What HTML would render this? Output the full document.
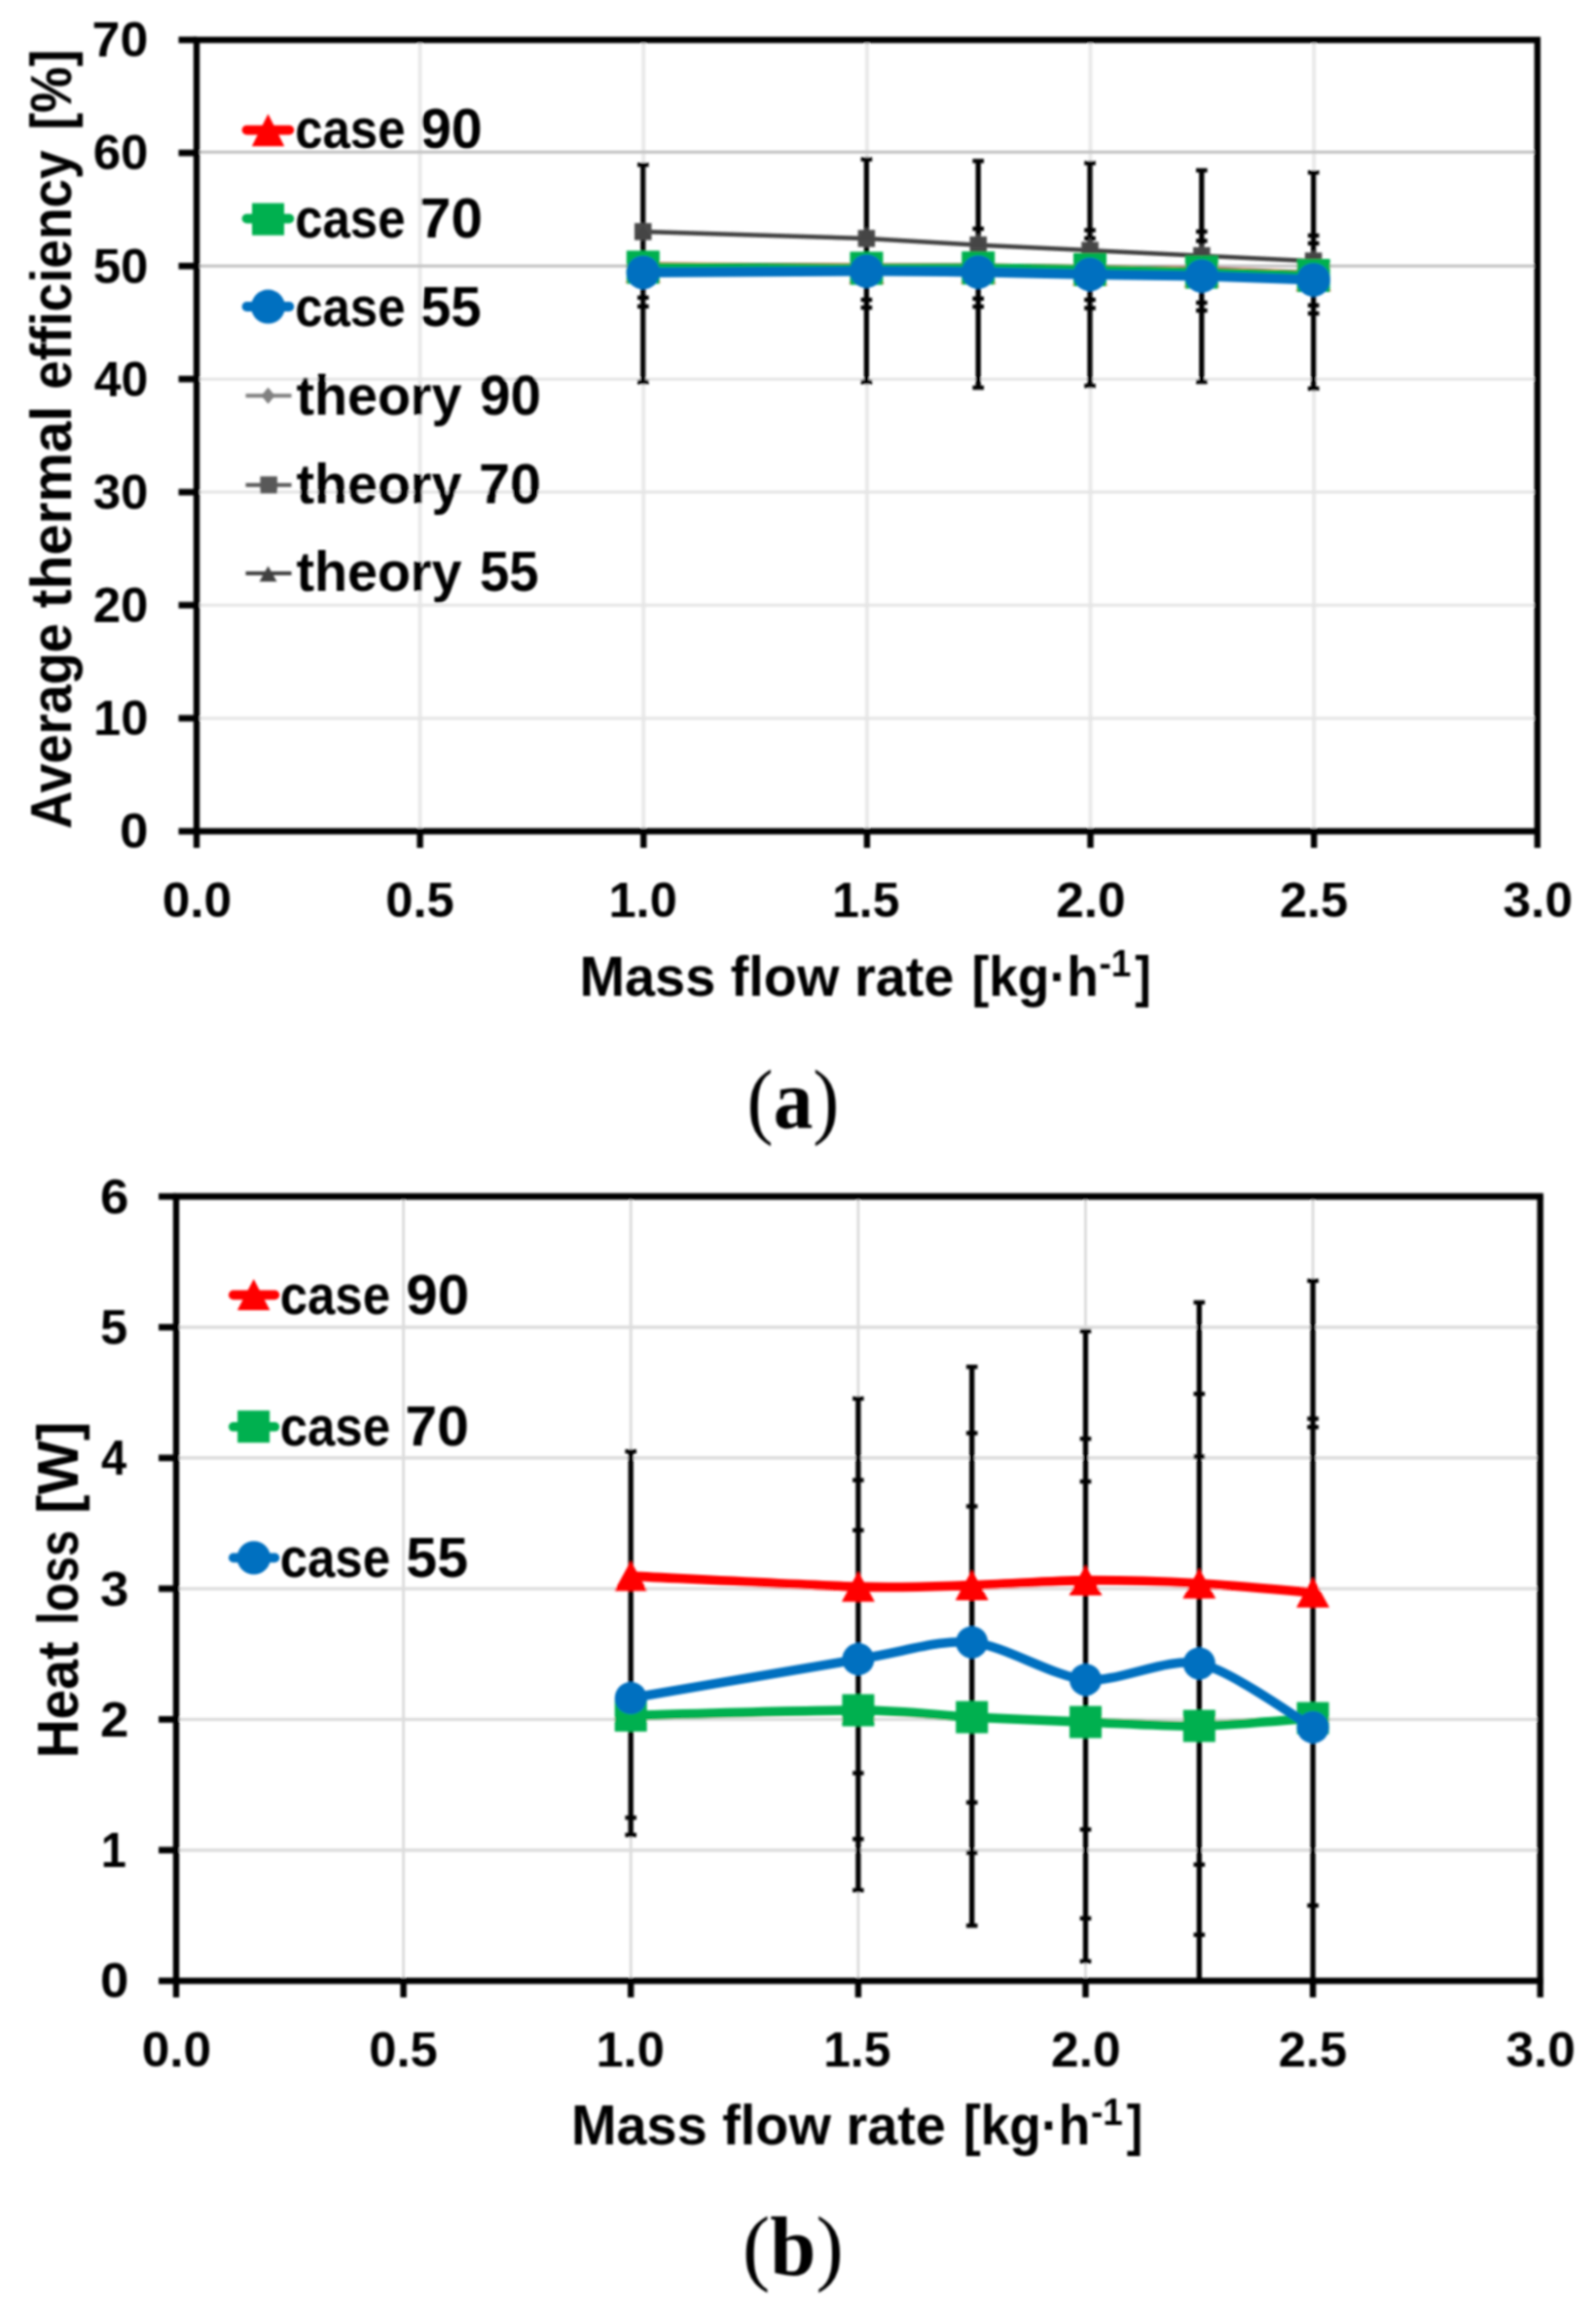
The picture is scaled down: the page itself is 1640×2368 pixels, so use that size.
<!DOCTYPE html>
<html lang="en"><head><meta charset="utf-8"><title>Charts</title>
<style>html,body{margin:0;padding:0;background:#fff}svg{display:block}text{font-family:"Liberation Sans",sans-serif;font-weight:bold;fill:#000}.cap{font-family:"Liberation Serif",serif;font-weight:normal}.cap tspan{font-weight:bold}</style></head><body>
<svg width="1640" height="2368" viewBox="0 0 1640 2368" role="img" aria-label="Charts (a) and (b)">
<defs><filter id="soft" x="0" y="0" width="1640" height="2368" filterUnits="userSpaceOnUse"><feGaussianBlur stdDeviation="0.8"/></filter></defs>
<rect width="1640" height="2368" fill="#fff"/>
<g filter="url(#soft)">
<g id="chart-a">
<line x1="431.6" y1="41.0" x2="431.6" y2="854.0" stroke="#e9e9e9" stroke-width="4"/>
<line x1="661.3" y1="41.0" x2="661.3" y2="854.0" stroke="#e9e9e9" stroke-width="4"/>
<line x1="890.9" y1="41.0" x2="890.9" y2="854.0" stroke="#e9e9e9" stroke-width="4"/>
<line x1="1120.5" y1="41.0" x2="1120.5" y2="854.0" stroke="#e9e9e9" stroke-width="4"/>
<line x1="1350.2" y1="41.0" x2="1350.2" y2="854.0" stroke="#e9e9e9" stroke-width="4"/>
<line x1="202.0" y1="737.9" x2="1579.8" y2="737.9" stroke="#e4e4e4" stroke-width="3"/>
<line x1="202.0" y1="621.7" x2="1579.8" y2="621.7" stroke="#e4e4e4" stroke-width="3"/>
<line x1="202.0" y1="505.6" x2="1579.8" y2="505.6" stroke="#e4e4e4" stroke-width="3"/>
<line x1="202.0" y1="389.4" x2="1579.8" y2="389.4" stroke="#e4e4e4" stroke-width="3"/>
<line x1="202.0" y1="273.3" x2="1579.8" y2="273.3" stroke="#c0c0c0" stroke-width="3"/>
<line x1="202.0" y1="156.3" x2="1579.8" y2="156.3" stroke="#c0c0c0" stroke-width="3"/>
<line x1="253.5" y1="133.6" x2="297.3" y2="133.6" stroke="#ff0000" stroke-width="9.8" stroke-linecap="round"/>
<line x1="253.5" y1="224.6" x2="297.3" y2="224.6" stroke="#00b050" stroke-width="9.8" stroke-linecap="round"/>
<line x1="253.5" y1="315.0" x2="297.3" y2="315.0" stroke="#0070c0" stroke-width="9.8" stroke-linecap="round"/>
<polygon points="275.5,117.0 292.2,150.2 258.8,150.2" fill="#ff0000"/>
<rect x="259.0" y="208.7" width="33" height="33" fill="#00b050"/>
<circle cx="275.5" cy="315.1" r="17.5" fill="#0070c0"/>
<line x1="252.5" y1="406.4" x2="299.5" y2="406.4" stroke="#808080" stroke-width="4.0"/>
<polygon points="275.5,397.9 282.5,406.4 275.5,414.9 268.5,406.4" fill="#808080"/>
<line x1="252.5" y1="498.2" x2="299.5" y2="498.2" stroke="#595959" stroke-width="4.0"/>
<rect x="267.4" y="489.4" width="17.5" height="17.5" fill="#595959"/>
<line x1="252.5" y1="589.1" x2="299.5" y2="589.1" stroke="#404040" stroke-width="4.0"/>
<polygon points="275.5,581.6 284.5,597.6 266.5,597.6" fill="#404040"/>
<text x="303.2" y="152.2" font-size="57" textLength="113.3" lengthAdjust="spacingAndGlyphs">case</text>
<text x="432.0" y="152.2" font-size="57" textLength="63.7" lengthAdjust="spacingAndGlyphs">90</text>
<text x="303.2" y="243.5" font-size="57" textLength="113.3" lengthAdjust="spacingAndGlyphs">case</text>
<text x="431.0" y="243.5" font-size="57" textLength="64.8" lengthAdjust="spacingAndGlyphs">70</text>
<text x="303.2" y="334.9" font-size="57" textLength="113.3" lengthAdjust="spacingAndGlyphs">case</text>
<text x="432.0" y="334.9" font-size="57" textLength="62.7" lengthAdjust="spacingAndGlyphs">55</text>
<text x="304.4" y="425.6" font-size="57" textLength="170.1" lengthAdjust="spacingAndGlyphs">theory</text>
<text x="492.9" y="425.6" font-size="57" textLength="63.0" lengthAdjust="spacingAndGlyphs">90</text>
<text x="304.4" y="517.0" font-size="57" textLength="170.1" lengthAdjust="spacingAndGlyphs">theory</text>
<text x="491.9" y="517.0" font-size="57" textLength="64.0" lengthAdjust="spacingAndGlyphs">70</text>
<text x="304.4" y="607.4" font-size="57" textLength="170.1" lengthAdjust="spacingAndGlyphs">theory</text>
<text x="492.9" y="607.4" font-size="57" textLength="60.7" lengthAdjust="spacingAndGlyphs">55</text>
<line x1="660.8" y1="169.3" x2="660.8" y2="392.6" stroke="#000" stroke-width="5.3"/><line x1="655.0" y1="169.3" x2="666.6" y2="169.3" stroke="#000" stroke-width="4.4"/><line x1="655.0" y1="392.6" x2="666.6" y2="392.6" stroke="#000" stroke-width="4.4"/><line x1="655.0" y1="305.8" x2="666.6" y2="305.8" stroke="#000" stroke-width="4.4"/><line x1="655.0" y1="314.8" x2="666.6" y2="314.8" stroke="#000" stroke-width="4.4"/>
<line x1="890.4" y1="163.7" x2="890.4" y2="392.6" stroke="#000" stroke-width="5.3"/><line x1="884.6" y1="163.7" x2="896.2" y2="163.7" stroke="#000" stroke-width="4.4"/><line x1="884.6" y1="392.6" x2="896.2" y2="392.6" stroke="#000" stroke-width="4.4"/><line x1="884.6" y1="308.0" x2="896.2" y2="308.0" stroke="#000" stroke-width="4.4"/><line x1="884.6" y1="316.0" x2="896.2" y2="316.0" stroke="#000" stroke-width="4.4"/>
<line x1="1005.2" y1="165.4" x2="1005.2" y2="398.3" stroke="#000" stroke-width="5.3"/><line x1="999.4" y1="165.4" x2="1011.0" y2="165.4" stroke="#000" stroke-width="4.4"/><line x1="999.4" y1="398.3" x2="1011.0" y2="398.3" stroke="#000" stroke-width="4.4"/><line x1="999.4" y1="235.0" x2="1011.0" y2="235.0" stroke="#000" stroke-width="4.4"/><line x1="999.4" y1="306.8" x2="1011.0" y2="306.8" stroke="#000" stroke-width="4.4"/><line x1="999.4" y1="315.0" x2="1011.0" y2="315.0" stroke="#000" stroke-width="4.4"/>
<line x1="1120.0" y1="167.6" x2="1120.0" y2="396.4" stroke="#000" stroke-width="5.3"/><line x1="1114.2" y1="167.6" x2="1125.8" y2="167.6" stroke="#000" stroke-width="4.4"/><line x1="1114.2" y1="396.4" x2="1125.8" y2="396.4" stroke="#000" stroke-width="4.4"/><line x1="1114.2" y1="236.5" x2="1125.8" y2="236.5" stroke="#000" stroke-width="4.4"/><line x1="1114.2" y1="244.8" x2="1125.8" y2="244.8" stroke="#000" stroke-width="4.4"/><line x1="1114.2" y1="308.0" x2="1125.8" y2="308.0" stroke="#000" stroke-width="4.4"/><line x1="1114.2" y1="316.5" x2="1125.8" y2="316.5" stroke="#000" stroke-width="4.4"/>
<line x1="1234.8" y1="175.0" x2="1234.8" y2="392.3" stroke="#000" stroke-width="5.3"/><line x1="1229.0" y1="175.0" x2="1240.6" y2="175.0" stroke="#000" stroke-width="4.4"/><line x1="1229.0" y1="392.3" x2="1240.6" y2="392.3" stroke="#000" stroke-width="4.4"/><line x1="1229.0" y1="237.9" x2="1240.6" y2="237.9" stroke="#000" stroke-width="4.4"/><line x1="1229.0" y1="247.5" x2="1240.6" y2="247.5" stroke="#000" stroke-width="4.4"/><line x1="1229.0" y1="311.0" x2="1240.6" y2="311.0" stroke="#000" stroke-width="4.4"/><line x1="1229.0" y1="319.0" x2="1240.6" y2="319.0" stroke="#000" stroke-width="4.4"/>
<line x1="1349.7" y1="177.2" x2="1349.7" y2="399.2" stroke="#000" stroke-width="5.3"/><line x1="1343.9" y1="177.2" x2="1355.5" y2="177.2" stroke="#000" stroke-width="4.4"/><line x1="1343.9" y1="399.2" x2="1355.5" y2="399.2" stroke="#000" stroke-width="4.4"/><line x1="1343.9" y1="242.0" x2="1355.5" y2="242.0" stroke="#000" stroke-width="4.4"/><line x1="1343.9" y1="250.0" x2="1355.5" y2="250.0" stroke="#000" stroke-width="4.4"/><line x1="1343.9" y1="313.7" x2="1355.5" y2="313.7" stroke="#000" stroke-width="4.4"/><line x1="1343.9" y1="322.0" x2="1355.5" y2="322.0" stroke="#000" stroke-width="4.4"/>
<polyline fill="none" stroke="#404040" stroke-width="4.6" points="660.8,238.0 890.4,245.0 1005.2,251.7 1120.0,257.2 1234.8,262.7 1349.7,268.2"/>
<rect x="652.0" y="229.2" width="17.5" height="17.5" fill="#4a4a4a"/>
<polygon points="660.8,231.0 669.3,245.0 652.3,245.0" fill="#454545"/>
<rect x="881.6" y="236.2" width="17.5" height="17.5" fill="#4a4a4a"/>
<polygon points="890.4,233.0 898.9,247.0 881.9,247.0" fill="#454545"/>
<rect x="996.5" y="242.9" width="17.5" height="17.5" fill="#4a4a4a"/>
<polygon points="1005.2,239.5 1013.7,253.5 996.7,253.5" fill="#454545"/>
<rect x="1111.3" y="248.4" width="17.5" height="17.5" fill="#4a4a4a"/>
<polygon points="1120.0,244.0 1128.5,258.0 1111.5,258.0" fill="#454545"/>
<rect x="1226.1" y="253.9" width="17.5" height="17.5" fill="#4a4a4a"/>
<polygon points="1234.8,250.0 1243.3,264.0 1226.3,264.0" fill="#454545"/>
<rect x="1340.9" y="259.4" width="17.5" height="17.5" fill="#4a4a4a"/>
<polygon points="1349.7,256.5 1358.2,270.5 1341.2,270.5" fill="#454545"/>
<path d="M660.8,274.0 C692.9,274.2 842.2,275.1 890.4,275.3 C938.6,275.5 973.1,275.0 1005.2,275.2 C1037.4,275.4 1087.9,276.5 1120.0,277.0 C1152.2,277.5 1202.7,278.0 1234.8,278.8 C1267.0,279.6 1333.6,282.2 1349.7,282.7" fill="none" stroke="#ff0000" stroke-width="9.6" stroke-linejoin="round"/>
<polygon points="660.8,257.5 678.8,290.5 642.8,290.5" fill="#ff0000"/>
<polygon points="890.4,258.8 908.4,291.8 872.4,291.8" fill="#ff0000"/>
<polygon points="1005.2,258.7 1023.2,291.7 987.2,291.7" fill="#ff0000"/>
<polygon points="1120.0,260.5 1138.0,293.5 1102.0,293.5" fill="#ff0000"/>
<polygon points="1234.8,262.3 1252.8,295.3 1216.8,295.3" fill="#ff0000"/>
<polygon points="1349.7,266.2 1367.7,299.2 1331.7,299.2" fill="#ff0000"/>
<path d="M660.8,274.5 C692.9,274.7 842.2,275.5 890.4,275.6 C938.6,275.7 973.1,275.1 1005.2,275.3 C1037.4,275.5 1087.9,276.4 1120.0,277.0 C1152.2,277.6 1202.7,278.7 1234.8,279.5 C1267.0,280.3 1333.6,282.5 1349.7,283.0" fill="none" stroke="#00b050" stroke-width="9.6" stroke-linejoin="round"/>
<rect x="643.8" y="257.5" width="34" height="34" fill="#00b050"/>
<rect x="873.4" y="258.6" width="34" height="34" fill="#00b050"/>
<rect x="988.2" y="258.3" width="34" height="34" fill="#00b050"/>
<rect x="1103.0" y="260.0" width="34" height="34" fill="#00b050"/>
<rect x="1217.8" y="262.5" width="34" height="34" fill="#00b050"/>
<rect x="1332.7" y="266.0" width="34" height="34" fill="#00b050"/>
<path d="M660.8,280.0 C692.9,279.8 842.2,278.7 890.4,278.6 C938.6,278.5 973.1,279.1 1005.2,279.6 C1037.4,280.1 1087.9,281.4 1120.0,282.0 C1152.2,282.6 1202.7,282.8 1234.8,283.6 C1267.0,284.4 1333.6,287.0 1349.7,287.5" fill="none" stroke="#0070c0" stroke-width="10" stroke-linejoin="round"/>
<circle cx="660.8" cy="280.0" r="17.2" fill="#0070c0"/>
<circle cx="890.4" cy="278.6" r="17.2" fill="#0070c0"/>
<circle cx="1005.2" cy="279.6" r="17.2" fill="#0070c0"/>
<circle cx="1120.0" cy="282.0" r="17.2" fill="#0070c0"/>
<circle cx="1234.8" cy="283.6" r="17.2" fill="#0070c0"/>
<circle cx="1349.7" cy="287.5" r="17.2" fill="#0070c0"/>
<line x1="198.8" y1="41.0" x2="1583.0" y2="41.0" stroke="#000" stroke-width="6.7"/>
<line x1="198.8" y1="854.0" x2="1583.0" y2="854.0" stroke="#000" stroke-width="6.7"/>
<line x1="202.0" y1="41.0" x2="202.0" y2="854.0" stroke="#000" stroke-width="6.4"/>
<line x1="1579.8" y1="41.0" x2="1579.8" y2="854.0" stroke="#000" stroke-width="6.4"/>
<line x1="183.5" y1="854.0" x2="202.0" y2="854.0" stroke="#000" stroke-width="6.7"/>
<text x="122.9" y="871.3" font-size="50" textLength="29.4" lengthAdjust="spacingAndGlyphs">0</text>
<line x1="183.5" y1="737.9" x2="202.0" y2="737.9" stroke="#000" stroke-width="6.7"/>
<text x="96.0" y="755.2" font-size="50" textLength="56.3" lengthAdjust="spacingAndGlyphs">10</text>
<line x1="183.5" y1="621.7" x2="202.0" y2="621.7" stroke="#000" stroke-width="6.7"/>
<text x="95.7" y="639.0" font-size="50" textLength="56.6" lengthAdjust="spacingAndGlyphs">20</text>
<line x1="183.5" y1="505.6" x2="202.0" y2="505.6" stroke="#000" stroke-width="6.7"/>
<text x="95.7" y="522.9" font-size="50" textLength="56.6" lengthAdjust="spacingAndGlyphs">30</text>
<line x1="183.5" y1="389.4" x2="202.0" y2="389.4" stroke="#000" stroke-width="6.7"/>
<text x="96.7" y="406.7" font-size="50" textLength="55.5" lengthAdjust="spacingAndGlyphs">40</text>
<line x1="183.5" y1="273.3" x2="202.0" y2="273.3" stroke="#000" stroke-width="6.7"/>
<text x="95.7" y="290.6" font-size="50" textLength="56.6" lengthAdjust="spacingAndGlyphs">50</text>
<line x1="183.5" y1="157.1" x2="202.0" y2="157.1" stroke="#000" stroke-width="6.7"/>
<text x="95.7" y="174.4" font-size="50" textLength="56.6" lengthAdjust="spacingAndGlyphs">60</text>
<line x1="183.5" y1="41.0" x2="202.0" y2="41.0" stroke="#000" stroke-width="6.7"/>
<text x="94.6" y="58.3" font-size="50" textLength="57.6" lengthAdjust="spacingAndGlyphs">70</text>
<line x1="202.0" y1="854.0" x2="202.0" y2="871.0" stroke="#000" stroke-width="6.4"/>
<text x="166.7" y="941.7" font-size="50" textLength="71.5" lengthAdjust="spacingAndGlyphs">0.0</text>
<line x1="431.6" y1="854.0" x2="431.6" y2="871.0" stroke="#000" stroke-width="6.4"/>
<text x="396.3" y="941.7" font-size="50" textLength="70.4" lengthAdjust="spacingAndGlyphs">0.5</text>
<line x1="661.3" y1="854.0" x2="661.3" y2="871.0" stroke="#000" stroke-width="6.4"/>
<text x="625.5" y="941.7" font-size="50" textLength="70.3" lengthAdjust="spacingAndGlyphs">1.0</text>
<line x1="890.9" y1="854.0" x2="890.9" y2="871.0" stroke="#000" stroke-width="6.4"/>
<text x="855.2" y="941.7" font-size="50" textLength="69.2" lengthAdjust="spacingAndGlyphs">1.5</text>
<line x1="1120.5" y1="854.0" x2="1120.5" y2="871.0" stroke="#000" stroke-width="6.4"/>
<text x="1085.2" y="941.7" font-size="50" textLength="71.5" lengthAdjust="spacingAndGlyphs">2.0</text>
<line x1="1350.2" y1="854.0" x2="1350.2" y2="871.0" stroke="#000" stroke-width="6.4"/>
<text x="1314.9" y="941.7" font-size="50" textLength="70.4" lengthAdjust="spacingAndGlyphs">2.5</text>
<line x1="1579.8" y1="854.0" x2="1579.8" y2="871.0" stroke="#000" stroke-width="6.4"/>
<text x="1544.5" y="941.7" font-size="50" textLength="71.5" lengthAdjust="spacingAndGlyphs">3.0</text>
<text transform="translate(73.0,851.4) rotate(-90)" font-size="60" textLength="210.9" lengthAdjust="spacingAndGlyphs">Average</text>
<text transform="translate(73.0,624.7) rotate(-90)" font-size="60" textLength="207.8" lengthAdjust="spacingAndGlyphs">thermal</text>
<text transform="translate(73.0,400.1) rotate(-90)" font-size="60" textLength="245.8" lengthAdjust="spacingAndGlyphs">efficiency</text>
<text transform="translate(73.0,133.6) rotate(-90)" font-size="60" textLength="82.7" lengthAdjust="spacingAndGlyphs">[%]</text>
<text x="595.5" y="1022.6" font-size="58" textLength="384.9" lengthAdjust="spacingAndGlyphs">Mass flow rate</text>
<text x="998.5" y="1022.6" font-size="58" textLength="130.2" lengthAdjust="spacingAndGlyphs">[kg·h</text>
<text x="1129.6" y="1003.0" font-size="38" textLength="32.8" lengthAdjust="spacingAndGlyphs">-1</text>
<text x="1166.3" y="1022.6" font-size="58" textLength="16.5" lengthAdjust="spacingAndGlyphs">]</text>
<text class="cap" x="767.6" y="1159.2" font-size="87" textLength="94.7" lengthAdjust="spacingAndGlyphs">(<tspan>a</tspan>)</text>
</g>
<g id="chart-b">
<line x1="414.6" y1="1229.2" x2="414.6" y2="2035.0" stroke="#d8d8d8" stroke-width="2.6"/>
<line x1="648.2" y1="1229.2" x2="648.2" y2="2035.0" stroke="#d8d8d8" stroke-width="2.6"/>
<line x1="881.9" y1="1229.2" x2="881.9" y2="2035.0" stroke="#d8d8d8" stroke-width="2.6"/>
<line x1="1115.5" y1="1229.2" x2="1115.5" y2="2035.0" stroke="#d8d8d8" stroke-width="2.6"/>
<line x1="1349.1" y1="1229.2" x2="1349.1" y2="2035.0" stroke="#d8d8d8" stroke-width="2.6"/>
<line x1="181.0" y1="1900.7" x2="1582.7" y2="1900.7" stroke="#dcdcdc" stroke-width="3.4"/>
<line x1="181.0" y1="1766.4" x2="1582.7" y2="1766.4" stroke="#dcdcdc" stroke-width="3.4"/>
<line x1="181.0" y1="1632.1" x2="1582.7" y2="1632.1" stroke="#dcdcdc" stroke-width="3.4"/>
<line x1="181.0" y1="1497.8" x2="1582.7" y2="1497.8" stroke="#dcdcdc" stroke-width="3.4"/>
<line x1="181.0" y1="1363.5" x2="1582.7" y2="1363.5" stroke="#dcdcdc" stroke-width="3.4"/>
<line x1="239.7" y1="1330.4" x2="282.4" y2="1330.4" stroke="#ff0000" stroke-width="9.6" stroke-linecap="round"/>
<line x1="239.7" y1="1465.8" x2="282.4" y2="1465.8" stroke="#00b050" stroke-width="9.6" stroke-linecap="round"/>
<line x1="239.7" y1="1600.4" x2="282.4" y2="1600.4" stroke="#0070c0" stroke-width="9.6" stroke-linecap="round"/>
<polygon points="260.7,1313.9 277.4,1345.9 243.9,1345.9" fill="#ff0000"/>
<rect x="244.1" y="1449.1" width="33" height="33" fill="#00b050"/>
<circle cx="260.8" cy="1600.4" r="17.2" fill="#0070c0"/>
<text x="287.7" y="1349.5" font-size="57" textLength="113.3" lengthAdjust="spacingAndGlyphs">case</text>
<text x="417.3" y="1349.5" font-size="57" textLength="64.8" lengthAdjust="spacingAndGlyphs">90</text>
<text x="287.7" y="1484.9" font-size="57" textLength="113.3" lengthAdjust="spacingAndGlyphs">case</text>
<text x="416.2" y="1484.9" font-size="57" textLength="65.8" lengthAdjust="spacingAndGlyphs">70</text>
<text x="287.7" y="1619.7" font-size="57" textLength="113.3" lengthAdjust="spacingAndGlyphs">case</text>
<text x="417.3" y="1619.7" font-size="57" textLength="63.7" lengthAdjust="spacingAndGlyphs">55</text>
<line x1="648.2" y1="1491.1" x2="648.2" y2="1885.1" stroke="#000" stroke-width="5.3"/><line x1="642.4" y1="1491.1" x2="654.0" y2="1491.1" stroke="#000" stroke-width="4.4"/><line x1="642.4" y1="1867.4" x2="654.0" y2="1867.4" stroke="#000" stroke-width="4.4"/><line x1="642.4" y1="1885.1" x2="654.0" y2="1885.1" stroke="#000" stroke-width="4.4"/>
<line x1="881.9" y1="1436.8" x2="881.9" y2="1941.9" stroke="#000" stroke-width="5.3"/><line x1="876.1" y1="1436.8" x2="887.6" y2="1436.8" stroke="#000" stroke-width="4.4"/><line x1="876.1" y1="1520.6" x2="887.6" y2="1520.6" stroke="#000" stroke-width="4.4"/><line x1="876.1" y1="1572.1" x2="887.6" y2="1572.1" stroke="#000" stroke-width="4.4"/><line x1="876.1" y1="1821.6" x2="887.6" y2="1821.6" stroke="#000" stroke-width="4.4"/><line x1="876.1" y1="1889.3" x2="887.6" y2="1889.3" stroke="#000" stroke-width="4.4"/><line x1="876.1" y1="1941.9" x2="887.6" y2="1941.9" stroke="#000" stroke-width="4.4"/>
<line x1="998.7" y1="1404.2" x2="998.7" y2="1978.3" stroke="#000" stroke-width="5.3"/><line x1="992.9" y1="1404.2" x2="1004.5" y2="1404.2" stroke="#000" stroke-width="4.4"/><line x1="992.9" y1="1472.3" x2="1004.5" y2="1472.3" stroke="#000" stroke-width="4.4"/><line x1="992.9" y1="1547.5" x2="1004.5" y2="1547.5" stroke="#000" stroke-width="4.4"/><line x1="992.9" y1="1851.7" x2="1004.5" y2="1851.7" stroke="#000" stroke-width="4.4"/><line x1="992.9" y1="1903.3" x2="1004.5" y2="1903.3" stroke="#000" stroke-width="4.4"/><line x1="992.9" y1="1978.3" x2="1004.5" y2="1978.3" stroke="#000" stroke-width="4.4"/>
<line x1="1115.5" y1="1367.5" x2="1115.5" y2="2014.9" stroke="#000" stroke-width="5.3"/><line x1="1109.7" y1="1367.5" x2="1121.3" y2="1367.5" stroke="#000" stroke-width="4.4"/><line x1="1109.7" y1="1478.1" x2="1121.3" y2="1478.1" stroke="#000" stroke-width="4.4"/><line x1="1109.7" y1="1522.0" x2="1121.3" y2="1522.0" stroke="#000" stroke-width="4.4"/><line x1="1109.7" y1="1879.5" x2="1121.3" y2="1879.5" stroke="#000" stroke-width="4.4"/><line x1="1109.7" y1="1970.8" x2="1121.3" y2="1970.8" stroke="#000" stroke-width="4.4"/><line x1="1109.7" y1="2014.9" x2="1121.3" y2="2014.9" stroke="#000" stroke-width="4.4"/>
<line x1="1232.3" y1="1338.0" x2="1232.3" y2="2035.0" stroke="#000" stroke-width="5.3"/><line x1="1226.5" y1="1338.0" x2="1238.1" y2="1338.0" stroke="#000" stroke-width="4.4"/><line x1="1226.5" y1="1432.0" x2="1238.1" y2="1432.0" stroke="#000" stroke-width="4.4"/><line x1="1226.5" y1="1496.5" x2="1238.1" y2="1496.5" stroke="#000" stroke-width="4.4"/><line x1="1226.5" y1="1915.6" x2="1238.1" y2="1915.6" stroke="#000" stroke-width="4.4"/><line x1="1226.5" y1="1987.7" x2="1238.1" y2="1987.7" stroke="#000" stroke-width="4.4"/>
<line x1="1349.1" y1="1315.8" x2="1349.1" y2="2035.0" stroke="#000" stroke-width="5.3"/><line x1="1343.3" y1="1315.8" x2="1354.9" y2="1315.8" stroke="#000" stroke-width="4.4"/><line x1="1343.3" y1="1457.5" x2="1354.9" y2="1457.5" stroke="#000" stroke-width="4.4"/><line x1="1343.3" y1="1466.1" x2="1354.9" y2="1466.1" stroke="#000" stroke-width="4.4"/><line x1="1343.3" y1="1957.6" x2="1354.9" y2="1957.6" stroke="#000" stroke-width="4.4"/>
<path d="M648.2,1762.4 C680.9,1761.6 832.8,1756.8 881.9,1757.0 C930.9,1757.2 966.0,1762.4 998.7,1764.1 C1031.4,1765.8 1082.8,1767.8 1115.5,1769.1 C1148.2,1770.3 1199.6,1773.7 1232.3,1773.1 C1265.0,1772.6 1332.7,1766.2 1349.1,1765.1" fill="none" stroke="#00b050" stroke-width="9.6" stroke-linejoin="round"/>
<rect x="631.7" y="1745.9" width="33" height="33" fill="#00b050"/>
<rect x="865.4" y="1740.5" width="33" height="33" fill="#00b050"/>
<rect x="982.2" y="1747.6" width="33" height="33" fill="#00b050"/>
<rect x="1099.0" y="1752.6" width="33" height="33" fill="#00b050"/>
<rect x="1215.8" y="1756.6" width="33" height="33" fill="#00b050"/>
<rect x="1332.6" y="1748.6" width="33" height="33" fill="#00b050"/>
<path d="M648.2,1619.1 C680.9,1620.6 832.8,1628.8 881.9,1630.1 C930.9,1631.4 966.0,1629.5 998.7,1628.6 C1031.4,1627.7 1082.8,1623.9 1115.5,1623.6 C1148.2,1623.4 1199.6,1625.0 1232.3,1626.7 C1265.0,1628.5 1332.7,1634.8 1349.1,1636.1" fill="none" stroke="#ff0000" stroke-width="9.6" stroke-linejoin="round"/>
<polygon points="648.2,1603.6 665.2,1634.6 631.2,1634.6" fill="#ff0000"/>
<polygon points="881.9,1614.6 898.9,1645.6 864.9,1645.6" fill="#ff0000"/>
<polygon points="998.7,1613.1 1015.7,1644.1 981.7,1644.1" fill="#ff0000"/>
<polygon points="1115.5,1608.1 1132.5,1639.1 1098.5,1639.1" fill="#ff0000"/>
<polygon points="1232.3,1611.2 1249.3,1642.2 1215.3,1642.2" fill="#ff0000"/>
<polygon points="1349.1,1620.6 1366.1,1651.6 1332.1,1651.6" fill="#ff0000"/>
<path d="M648.2,1744.5 C680.9,1738.9 832.8,1712.7 881.9,1704.6 C930.9,1696.6 966.0,1684.2 998.7,1687.2 C1031.4,1690.1 1082.8,1722.7 1115.5,1725.7 C1148.2,1728.8 1199.6,1702.1 1232.3,1708.9 C1265.0,1715.8 1332.7,1765.4 1349.1,1774.6" fill="none" stroke="#0070c0" stroke-width="9.6" stroke-linejoin="round"/>
<circle cx="648.2" cy="1744.5" r="16.5" fill="#0070c0"/>
<circle cx="881.9" cy="1704.6" r="16.5" fill="#0070c0"/>
<circle cx="998.7" cy="1687.2" r="16.5" fill="#0070c0"/>
<circle cx="1115.5" cy="1725.7" r="16.5" fill="#0070c0"/>
<circle cx="1232.3" cy="1708.9" r="16.5" fill="#0070c0"/>
<circle cx="1349.1" cy="1774.6" r="16.5" fill="#0070c0"/>
<line x1="177.8" y1="1229.2" x2="1585.9" y2="1229.2" stroke="#000" stroke-width="6.7"/>
<line x1="177.8" y1="2035.0" x2="1585.9" y2="2035.0" stroke="#000" stroke-width="6.7"/>
<line x1="181.0" y1="1229.2" x2="181.0" y2="2035.0" stroke="#000" stroke-width="6.4"/>
<line x1="1582.7" y1="1229.2" x2="1582.7" y2="2035.0" stroke="#000" stroke-width="6.4"/>
<line x1="163.0" y1="2035.0" x2="181.0" y2="2035.0" stroke="#000" stroke-width="6.7"/>
<text x="102.9" y="2052.4" font-size="50" textLength="29.3" lengthAdjust="spacingAndGlyphs">0</text>
<line x1="163.0" y1="1900.7" x2="181.0" y2="1900.7" stroke="#000" stroke-width="6.7"/>
<text x="103.7" y="1918.1" font-size="50" textLength="26.1" lengthAdjust="spacingAndGlyphs">1</text>
<line x1="163.0" y1="1766.4" x2="181.0" y2="1766.4" stroke="#000" stroke-width="6.7"/>
<text x="102.9" y="1783.8" font-size="50" textLength="29.3" lengthAdjust="spacingAndGlyphs">2</text>
<line x1="163.0" y1="1632.1" x2="181.0" y2="1632.1" stroke="#000" stroke-width="6.7"/>
<text x="102.9" y="1649.5" font-size="50" textLength="29.3" lengthAdjust="spacingAndGlyphs">3</text>
<line x1="163.0" y1="1497.8" x2="181.0" y2="1497.8" stroke="#000" stroke-width="6.7"/>
<text x="104.0" y="1515.2" font-size="50" textLength="26.1" lengthAdjust="spacingAndGlyphs">4</text>
<line x1="163.0" y1="1363.5" x2="181.0" y2="1363.5" stroke="#000" stroke-width="6.7"/>
<text x="103.0" y="1380.9" font-size="50" textLength="28.1" lengthAdjust="spacingAndGlyphs">5</text>
<line x1="163.0" y1="1229.2" x2="181.0" y2="1229.2" stroke="#000" stroke-width="6.7"/>
<text x="102.9" y="1246.6" font-size="50" textLength="29.3" lengthAdjust="spacingAndGlyphs">6</text>
<line x1="181.0" y1="2035.0" x2="181.0" y2="2052.0" stroke="#000" stroke-width="6.4"/>
<text x="145.7" y="2122.6" font-size="50" textLength="71.5" lengthAdjust="spacingAndGlyphs">0.0</text>
<line x1="414.6" y1="2035.0" x2="414.6" y2="2052.0" stroke="#000" stroke-width="6.4"/>
<text x="379.3" y="2122.6" font-size="50" textLength="70.4" lengthAdjust="spacingAndGlyphs">0.5</text>
<line x1="648.2" y1="2035.0" x2="648.2" y2="2052.0" stroke="#000" stroke-width="6.4"/>
<text x="612.5" y="2122.6" font-size="50" textLength="70.3" lengthAdjust="spacingAndGlyphs">1.0</text>
<line x1="881.9" y1="2035.0" x2="881.9" y2="2052.0" stroke="#000" stroke-width="6.4"/>
<text x="846.2" y="2122.6" font-size="50" textLength="69.2" lengthAdjust="spacingAndGlyphs">1.5</text>
<line x1="1115.5" y1="2035.0" x2="1115.5" y2="2052.0" stroke="#000" stroke-width="6.4"/>
<text x="1080.1" y="2122.6" font-size="50" textLength="71.5" lengthAdjust="spacingAndGlyphs">2.0</text>
<line x1="1349.1" y1="2035.0" x2="1349.1" y2="2052.0" stroke="#000" stroke-width="6.4"/>
<text x="1313.8" y="2122.6" font-size="50" textLength="70.4" lengthAdjust="spacingAndGlyphs">2.5</text>
<line x1="1582.7" y1="2035.0" x2="1582.7" y2="2052.0" stroke="#000" stroke-width="6.4"/>
<text x="1547.4" y="2122.6" font-size="50" textLength="71.5" lengthAdjust="spacingAndGlyphs">3.0</text>
<text transform="translate(80.4,1806.3) rotate(-90)" font-size="59" textLength="119.6" lengthAdjust="spacingAndGlyphs">Heat</text>
<text transform="translate(80.4,1669.2) rotate(-90)" font-size="59" textLength="97.2" lengthAdjust="spacingAndGlyphs">loss</text>
<text transform="translate(80.4,1555.1) rotate(-90)" font-size="59" textLength="94.6" lengthAdjust="spacingAndGlyphs">[W]</text>
<text x="587.0" y="2202.6" font-size="58" textLength="384.9" lengthAdjust="spacingAndGlyphs">Mass flow rate</text>
<text x="990.0" y="2202.6" font-size="58" textLength="130.2" lengthAdjust="spacingAndGlyphs">[kg·h</text>
<text x="1121.1" y="2183.0" font-size="38" textLength="32.8" lengthAdjust="spacingAndGlyphs">-1</text>
<text x="1157.8" y="2202.6" font-size="58" textLength="16.5" lengthAdjust="spacingAndGlyphs">]</text>
<text class="cap" x="763.0" y="2336.5" font-size="87" textLength="103.7" lengthAdjust="spacingAndGlyphs">(<tspan>b</tspan>)</text>
</g>
</g></svg></body></html>
